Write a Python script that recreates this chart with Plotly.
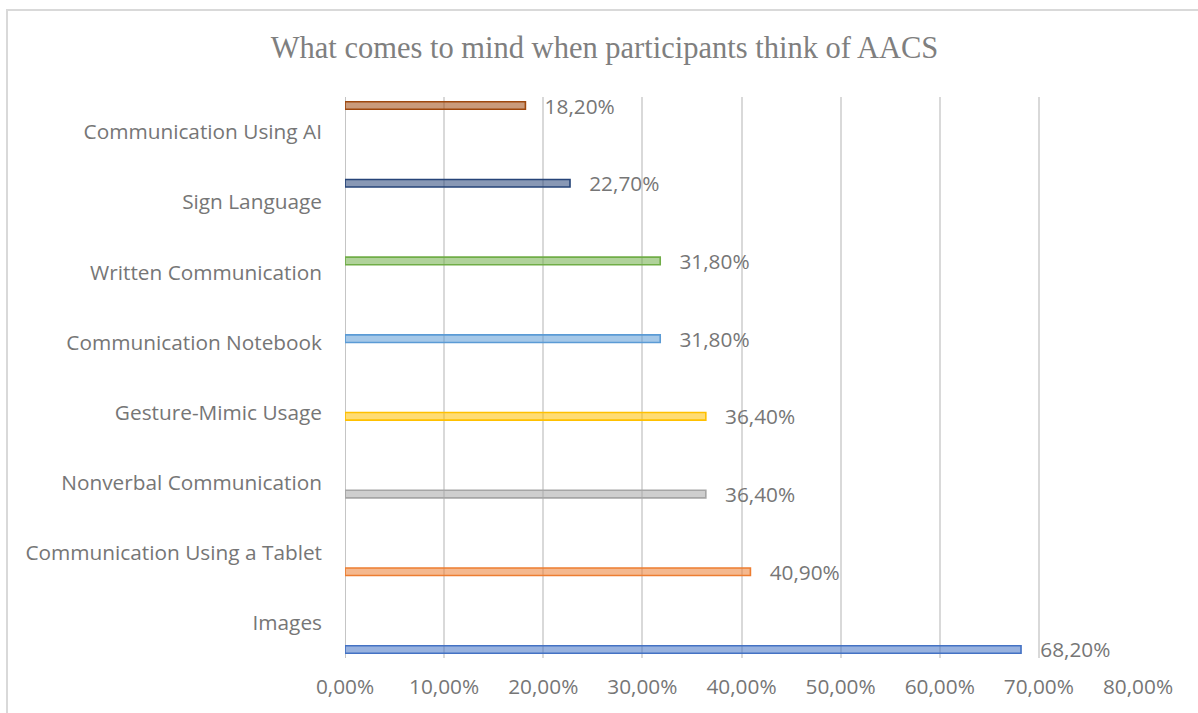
import plotly.graph_objects as go

# Survey results: share of participants mentioning each item
categories = [
    "Images",
    "Communication Using a Tablet",
    "Nonverbal Communication",
    "Gesture-Mimic Usage",
    "Communication Notebook",
    "Written Communication",
    "Sign Language",
    "Communication Using AI",
]
shares = [0.682, 0.409, 0.364, 0.364, 0.318, 0.318, 0.227, 0.182]
colors = ["#4472C4", "#ED7D31", "#A5A5A5", "#FFC000",
          "#5B9BD5", "#70AD47", "#264478", "#9E480E"]

x_ticks = [0, 0.1, 0.2, 0.3, 0.4, 0.5, 0.6, 0.7, 0.8]

TEXT = "#767676"
FONT = "Open Sans"
FS = 20.8


def rgba(hex_color, a):
    h = hex_color.lstrip("#")
    r, g, b = int(h[0:2], 16), int(h[2:4], 16), int(h[4:6], 16)
    return f"rgba({r},{g},{b},{a})"


fig = go.Figure()
# one series per item, each in its own offset group so the bars sit in
# separate slots of the cluster
for i, (cat, val, col) in enumerate(zip(categories, shares, colors)):
    fig.add_trace(go.Bar(
        y=[cat], x=[val], orientation="h", name=cat,
        offsetgroup=str(i),
        marker=dict(color=rgba(col, 0.55), line=dict(color=col, width=1.6)),
        texttemplate="   %{x:.2%}", textposition="outside",
        constraintext="none",
        textfont=dict(family=FONT, size=FS, color=TEXT),
        cliponaxis=False, showlegend=False,
    ))

W, H = 1198, 713
L, R, T, B = 345, 60, 97, 55
pw, ph = W - L - R, H - T - B

fig.update_layout(
    width=W, height=H,
    barmode="group", bargap=0.135, bargroupgap=0,
    separators=",.",
    margin=dict(l=L, r=R, t=T, b=B),
    paper_bgcolor="white", plot_bgcolor="white",
    title=dict(text="What comes to mind when participants think of AACS",
               x=604.5 / W, xref="container", xanchor="center",
               y=1 - 47 / H, yref="container", yanchor="middle",
               font=dict(family="Liberation Serif", size=30.5, color="#7f7f7f")),
    xaxis=dict(range=[0, 0.8], tickvals=x_ticks, tickformat=".2%",
               showgrid=True, gridcolor="#d9d9d9", gridwidth=1.8,
               zeroline=False, showline=False, ticks="",
               tickfont=dict(family=FONT, size=FS, color=TEXT),
               ticklabelstandoff=14),
    yaxis=dict(categoryorder="array", categoryarray=categories,
               showgrid=False, zeroline=False, showline=False, ticks="",
               tickfont=dict(family=FONT, size=FS, color=TEXT),
               ticklabelstandoff=22),
    shapes=[
        # category axis line at 0
        dict(type="line", xref="x", yref="paper", x0=0, x1=0, y0=0, y1=1,
             line=dict(color="#bfbfbf", width=1.8), layer="below"),
        # chart frame
        dict(type="rect", xref="paper", yref="paper",
             x0=(7 - L) / pw, x1=(W + 10 - L) / pw,
             y0=(H - (H + 10) - B) / ph, y1=(H - 10 - B) / ph,
             line=dict(color="#d9d9d9", width=2)),
    ],
)

fig.write_html("out.html")
